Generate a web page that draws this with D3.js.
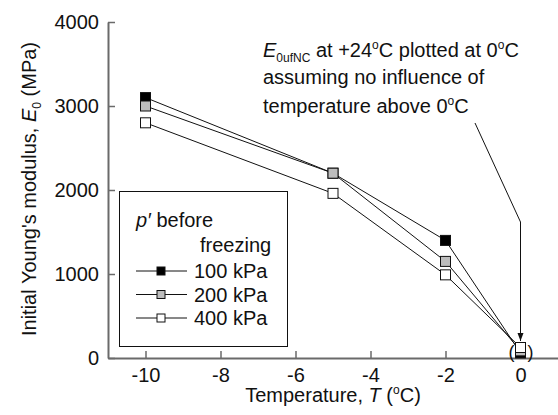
<!DOCTYPE html>
<html>
<head>
<meta charset="utf-8">
<script src="https://cdn.jsdelivr.net/npm/d3@7"></script>
<style>
  body { margin: 0; background: #fff; }
  text { font-family: "Liberation Sans", Arial, sans-serif; fill: #111; }
</style>
</head>
<body>
<script>
let width = 558,
    height = 415

// data
const temps = [-10, -5, -2, 0]
const e100 = [3100, 2200, 1400, 60]
const e200 = [3000, 2200, 1150, 85]
const e400 = [2800, 1960, 990, 125]
const seriesNames = ['100 kPa', '200 kPa', '400 kPa']
const seriesFills = ['#000000', '#bdbdbd', '#ffffff']
const xTicks = [-10, -8, -6, -4, -2, 0]
const yTicks = [0, 1000, 2000, 3000, 4000]

const series = [e100, e200, e400].map((vals, i) => ({
  name: seriesNames[i],
  fill: seriesFills[i],
  points: temps.map((t, j) => ({ t: t, e: vals[j] }))
}))

let svg = d3.select('body').append('svg')
    .attr('width', width)
    .attr('height', height)

svg.append('svg:defs').append('svg:marker')
    .attr('id', 'arrow')
    .attr('refX', 8)
    .attr('refY', 3)
    .attr('markerWidth', 10)
    .attr('markerHeight', 8)
    .attr('markerUnits', 'userSpaceOnUse')
    .attr('orient', 'auto')
    .append('path')
    .attr('d', 'M 0 0 L 8 3 L 0 6 Z')
    .style('fill', '#111')

const x = d3.scaleLinear().domain([-11, 1]).range([108, 558])
const y = d3.scaleLinear().domain([0, 4000]).range([358, 22])

const axisColor = '#6a6a6a'
const fontSize = 20
const plain = d => String(d)

// axes with inward ticks
let xAxis = svg.append('g')
    .attr('transform', 'translate(0,' + y(0) + ')')
    .call(d3.axisBottom(x).tickValues(xTicks).tickFormat(plain).tickSizeInner(-7).tickSizeOuter(0).tickPadding(10))
let yAxis = svg.append('g')
    .attr('transform', 'translate(' + x(-11) + ',0)')
    .call(d3.axisLeft(y).tickValues(yTicks).tickFormat(plain).tickSizeInner(-7).tickSizeOuter(0).tickPadding(9))

;[xAxis, yAxis].forEach(a => {
  a.select('.domain').attr('stroke', axisColor).attr('stroke-width', 2)
  a.selectAll('.tick line').attr('stroke', axisColor).attr('stroke-width', 1.5)
  a.selectAll('.tick text')
    .style('font-size', fontSize + 'px')
    .style('font-family', '"Liberation Sans", Arial, sans-serif')
    .attr('fill', '#111')
})

// axis titles
let xTitle = svg.append('text')
    .attr('x', 333).attr('y', 402)
    .attr('text-anchor', 'middle')
    .style('font-size', fontSize + 'px')
xTitle.append('tspan').text('Temperature, ')
xTitle.append('tspan').style('font-style', 'italic').text('T')
xTitle.append('tspan').text(' (')
xTitle.append('tspan').attr('dy', -8).style('font-size', '12px').text('o')
xTitle.append('tspan').attr('dy', 8).text('C)')

let yTitle = svg.append('text')
    .attr('transform', 'translate(36,189) rotate(-90)')
    .attr('text-anchor', 'middle')
    .style('font-size', fontSize + 'px')
yTitle.append('tspan').text("Initial Young's modulus, ")
yTitle.append('tspan').style('font-style', 'italic').text('E')
yTitle.append('tspan').attr('dy', 5).style('font-size', '12px').text('0')
yTitle.append('tspan').attr('dy', -5).text(' (MPa)')

// legend
let legend = svg.append('g')
legend.append('rect')
    .attr('x', 119.5).attr('y', 191.5)
    .attr('width', 168).attr('height', 155)
    .attr('fill', '#fff').attr('stroke', '#111').attr('stroke-width', 1)
let legTitle = legend.append('text').attr('x', 136).attr('y', 227).style('font-size', fontSize + 'px')
legTitle.append('tspan').style('font-style', 'italic').text('p\u2032')
legTitle.append('tspan').text(' before')
legend.append('text').attr('x', 200).attr('y', 252).style('font-size', fontSize + 'px').text('freezing')

const legRows = [271, 294.5, 318]
series.forEach((s, i) => {
  let row = legend.append('g').attr('transform', 'translate(0,' + legRows[i] + ')')
  row.append('line').attr('x1', 136).attr('x2', 187).attr('y1', 0).attr('y2', 0)
      .attr('stroke', '#111').attr('stroke-width', 1)
  row.append('rect').attr('x', 157).attr('y', -4).attr('width', 8).attr('height', 8)
      .attr('fill', s.fill).attr('stroke', '#111').attr('stroke-width', 1)
  row.append('text').attr('x', 194).attr('y', 7).style('font-size', fontSize + 'px').text(s.name)
})

// series lines and markers
const line = d3.line().x(d => x(d.t)).y(d => y(d.e))
let plot = svg.append('g')
series.forEach(s => {
  plot.append('path').datum(s.points)
      .attr('d', line)
      .attr('fill', 'none').attr('stroke', '#111').attr('stroke-width', 1)
})
series.forEach(s => {
  plot.selectAll(null).data(s.points).enter().append('rect')
      .attr('x', d => x(d.t) - 5).attr('y', d => y(d.e) - 5)
      .attr('width', 10).attr('height', 10)
      .attr('fill', s.fill).attr('stroke', '#111').attr('stroke-width', 1)
})

// brackets around the 0 degC points
svg.append('text').attr('x', x(0) - 6).attr('y', 358).attr('text-anchor', 'end')
    .style('font-size', '18px').text('(')
svg.append('text').attr('x', x(0) + 7).attr('y', 358)
    .style('font-size', '18px').text(')')

// annotation
let note = svg.append('g')
let l1 = note.append('text').attr('x', 263).attr('y', 57).style('font-size', fontSize + 'px')
l1.append('tspan').style('font-style', 'italic').text('E')
l1.append('tspan').attr('dy', 5).style('font-size', '12px').text('0ufNC')
l1.append('tspan').attr('dy', -5).text(' at +24')
l1.append('tspan').attr('dy', -8).style('font-size', '12px').text('o')
l1.append('tspan').attr('dy', 8).text('C plotted at 0')
l1.append('tspan').attr('dy', -8).style('font-size', '12px').text('o')
l1.append('tspan').attr('dy', 8).text('C')
note.append('text').attr('x', 263).attr('y', 84).style('font-size', fontSize + 'px')
    .text('assuming no influence of')
let l3 = note.append('text').attr('x', 263).attr('y', 113).style('font-size', fontSize + 'px')
l3.append('tspan').text('temperature above 0')
l3.append('tspan').attr('dy', -8).style('font-size', '12px').text('o')
l3.append('tspan').attr('dy', 8).text('C')

note.append('path')
    .attr('d', 'M 475 123 L ' + x(0) + ' 222 L ' + x(0) + ' 341')
    .attr('fill', 'none').attr('stroke', '#111').attr('stroke-width', 1)
    .attr('marker-end', 'url(#arrow)')
</script>
</body>
</html>
